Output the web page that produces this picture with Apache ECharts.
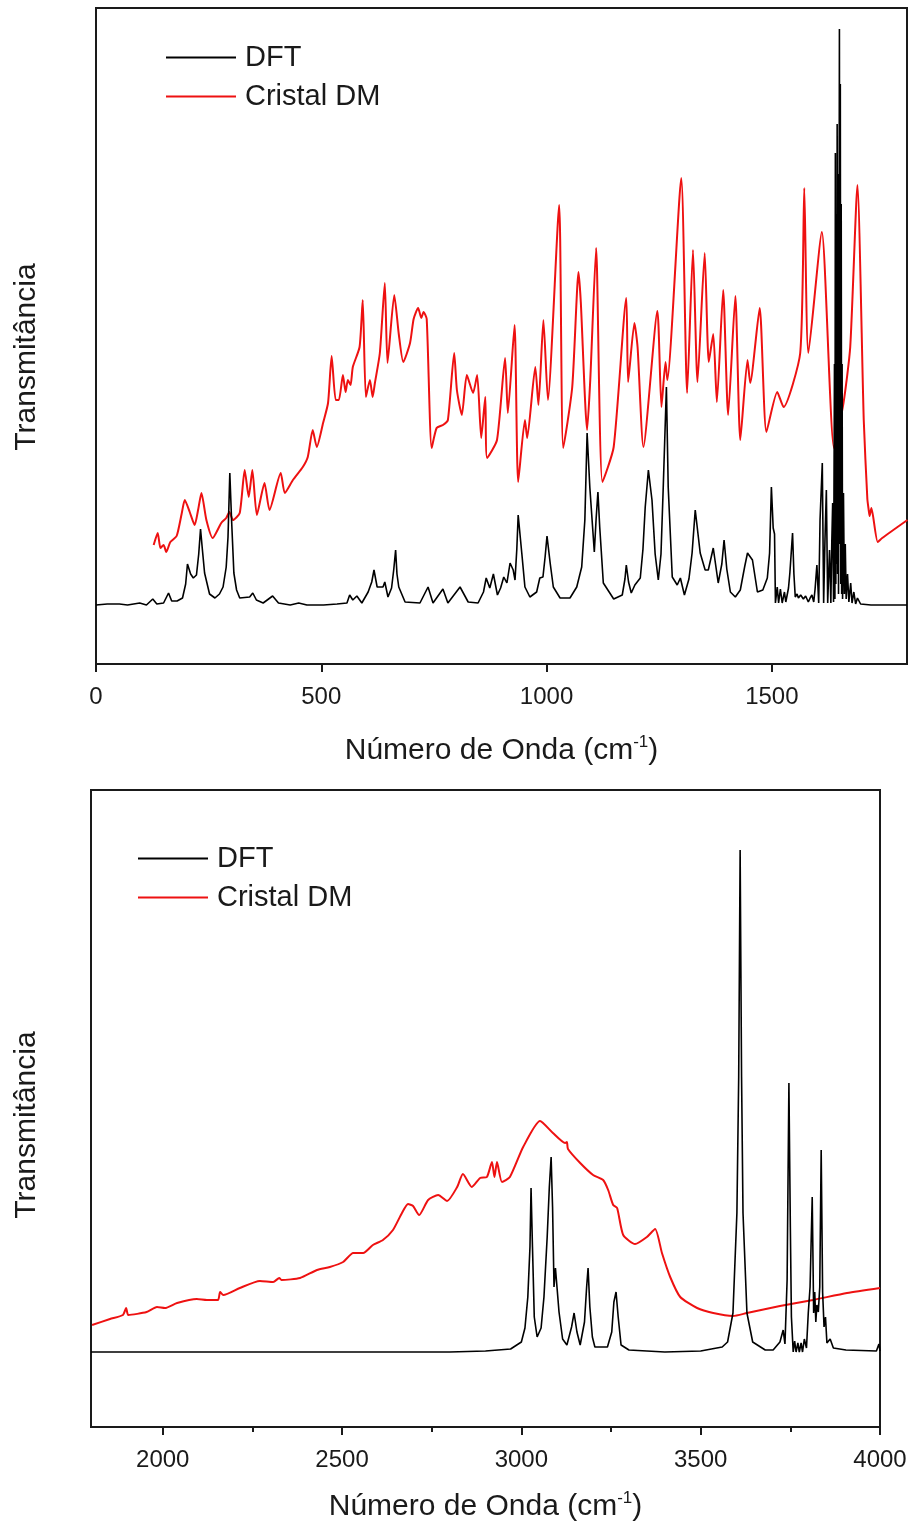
<!DOCTYPE html>
<html>
<head>
<meta charset="utf-8">
<script src="https://cdn.jsdelivr.net/npm/echarts@6/dist/echarts.min.js"></script>
<style>
html,body{margin:0;padding:0;background:#fff;}
#chart{width:912px;height:1531px;}
</style>
</head>
<body>
<div id="chart"></div>
<script>
// ---------- DATA (wavenumber cm-1, transmittance in arbitrary units) ----------
const lowTicks = [0, 500, 1000, 1500];
const highTicks = [2000, 2500, 3000, 3500, 4000];
const highMinorTicks = [2250, 2750, 3250, 3750];
const seriesNames = ['DFT', 'Cristal DM'];

const dftLow = [
[0,5.9],[25,6.0],[52,6.0],[70,5.9],[97,6.1],[112,5.9],[126,6.5],[135,6.0],[150,6.1],[161,7.1],[168,6.3],[180,6.3],[192,6.6],[199,8.0],[203,10.0],[206,10.2],[210,9.0],[216,8.6],[223,8.9],[228,11.0],[232,13.5],[236,11.5],[241,9.1],[252,7.0],[264,6.6],[274,7.0],[282,7.7],[289,9.7],[293,12.7],[297,19.1],[301,14.3],[306,9.1],[312,7.4],[319,6.6],[341,6.7],[348,7.1],[356,6.4],[371,6.1],[392,6.8],[405,6.1],[431,5.9],[450,6.1],[468,5.9],[505,5.9],[535,6.0],[557,6.1],[563,6.9],[570,6.4],[579,6.8],[590,6.1],[604,7.2],[612,8.2],[617,9.4],[624,7.7],[637,7.7],[641,8.2],[648,6.7],[656,7.6],[661,9.5],[665,11.4],[668,9.0],[672,7.7],[686,6.2],[719,6.1],[737,7.7],[748,6.1],[770,7.5],[781,6.1],[808,7.7],[826,6.2],[848,6.1],[860,7.2],[866,8.6],[874,7.6],[882,9.0],[891,6.9],[898,7.6],[905,8.7],[912,8.1],[919,10.1],[926,9.4],[930,8.4],[934,11.5],[937,14.9],[945,11.1],[952,7.7],[963,6.7],[978,7.2],[985,8.6],[992,8.7],[997,10.8],[1001,12.8],[1008,10.1],[1015,7.7],[1030,6.6],[1052,6.6],[1067,7.7],[1078,9.7],[1085,14.4],[1090,23.1],[1096,17.7],[1106,11.2],[1110,14.5],[1114,17.2],[1118,13.7],[1126,8.1],[1149,6.5],[1168,6.9],[1174,8.5],[1177,9.9],[1182,8.2],[1188,7.1],[1196,7.9],[1208,8.6],[1214,11.5],[1219,15.7],[1226,19.4],[1234,16.4],[1241,11.0],[1248,8.4],[1254,11.0],[1259,17.7],[1266,27.7],[1270,17.7],[1279,8.7],[1290,7.9],[1297,8.6],[1306,6.9],[1316,8.5],[1323,11.1],[1330,15.4],[1341,11.1],[1352,9.4],[1359,9.4],[1370,11.6],[1381,8.1],[1389,10.0],[1394,12.4],[1400,9.5],[1408,7.2],[1419,6.7],[1430,7.4],[1440,9.8],[1446,11.1],[1457,10.4],[1468,7.2],[1480,7.4],[1490,8.6],[1495,11.1],[1499,17.7],[1503,13.6],[1506,13.0],[1508,6.1],[1512,7.7],[1515,6.1],[1519,7.5],[1523,6.1],[1528,7.2],[1531,6.2],[1534,6.4],[1537,7.6],[1540,9.1],[1546,13.1],[1549,9.0],[1552,6.7],[1556,7.0],[1559,6.6],[1564,6.9],[1570,6.5],[1575,6.8],[1581,6.2],[1585,6.6],[1589,6.9],[1593,6.2],[1596,7.5],[1600,9.9],[1604,6.1],[1607,14.4],[1612,20.1],[1615,6.1],[1618,12.5],[1621,17.4],[1624,6.1],[1628,11.4],[1631,6.1],[1633,12.0],[1635,16.1],[1637,6.2],[1639,30.0],[1640,6.5],[1641,51.1],[1642,8.0],[1643,45.0],[1644,10.0],[1645,54.0],[1646,9.0],[1647,49.0],[1648,7.0],[1650,63.5],[1651,12.0],[1652,58.0],[1653,8.0],[1654,46.0],[1655,7.0],[1656,30.0],[1657,6.5],[1659,17.1],[1661,7.0],[1663,12.0],[1665,6.5],[1668,9.0],[1671,6.2],[1675,8.1],[1678,6.1],[1682,7.2],[1686,6.0],[1690,6.6],[1697,6.0],[1720,5.9],[1800,5.9]
];

const crystalLow = [
[128,11.9],[137,13.1],[143,11.6],[150,11.9],[156,11.2],[165,12.2],[179,12.8],[190,15.0],[197,16.4],[208,15.2],[219,13.9],[227,15.5],[234,17.1],[245,14.4],[259,12.6],[278,14.1],[289,14.6],[296,15.2],[304,14.4],[319,15.1],[330,19.4],[339,16.7],[347,19.4],[357,14.9],[374,18.1],[385,15.4],[410,19.1],[419,17.1],[437,18.4],[459,19.7],[470,20.7],[481,23.4],[490,21.7],[504,24.1],[515,26.1],[523,30.8],[532,26.4],[539,26.4],[548,28.9],[554,27.2],[559,28.4],[565,27.9],[570,29.7],[585,31.7],[592,36.4],[599,26.7],[608,28.4],[614,26.7],[619,28.1],[630,31.1],[641,38.1],[647,30.1],[662,36.9],[672,33.0],[682,30.2],[697,32.1],[705,34.5],[715,35.6],[722,34.6],[727,35.2],[734,34.5],[745,21.6],[756,23.6],[770,23.9],[781,24.4],[795,31.1],[801,27.4],[812,24.9],[823,28.9],[837,27.1],[846,28.9],[855,22.6],[864,26.7],[868,20.6],[890,22.4],[908,30.6],[914,25.1],[929,33.9],[937,18.2],[952,24.4],[957,22.6],[975,29.7],[982,25.9],[993,34.4],[1003,26.4],[1028,45.9],[1037,21.6],[1057,27.7],[1071,39.2],[1076,36.2],[1090,23.4],[1097,28.4],[1110,41.6],[1124,18.2],[1149,21.7],[1177,36.6],[1181,28.2],[1195,34.1],[1202,31.7],[1215,21.7],[1246,35.3],[1255,25.7],[1264,30.2],[1268,28.4],[1299,48.6],[1312,27.1],[1325,41.4],[1335,28.2],[1351,41.1],[1360,30.2],[1370,33.0],[1378,26.2],[1392,37.4],[1403,24.9],[1419,36.8],[1430,22.4],[1446,30.4],[1452,28.1],[1473,35.6],[1488,23.2],[1512,27.2],[1526,25.7],[1563,31.1],[1572,47.6],[1581,31.1],[1611,43.2],[1638,21.6],[1659,26.1],[1674,31.7],[1690,47.9],[1704,24.4],[1712,16.5],[1715,15.4],[1717,14.8],[1721,15.6],[1735,12.2],[1745,12.6],[1801,14.4]
];

const dftHigh = [
[1800,7.5],[2500,7.5],[2800,7.5],[2900,7.6],[2970,7.8],[3000,8.5],[3010,9.9],[3018,13.0],[3024,18.0],[3027,23.9],[3031,18.0],[3036,11.0],[3044,9.0],[3055,9.9],[3063,13.0],[3072,19.0],[3078,24.0],[3083,27.0],[3087,22.0],[3091,14.0],[3095,15.9],[3099,15.9],[3105,11.5],[3115,8.8],[3127,8.2],[3140,10.0],[3147,11.4],[3155,9.5],[3164,8.2],[3176,10.5],[3182,14.0],[3186,15.9],[3191,12.0],[3198,9.0],[3205,8.0],[3240,8.0],[3252,9.5],[3258,12.5],[3264,13.5],[3270,11.0],[3278,8.2],[3300,7.7],[3400,7.5],[3500,7.6],[3560,8.0],[3575,8.5],[3590,11.4],[3601,21.4],[3606,35.0],[3610,57.7],[3614,35.0],[3618,21.4],[3629,11.4],[3645,8.5],[3680,7.7],[3702,7.7],[3721,8.5],[3730,9.7],[3735,8.3],[3741,14.7],[3746,34.4],[3750,20.0],[3753,11.0],[3758,7.5],[3762,8.6],[3766,7.5],[3771,8.4],[3775,7.5],[3780,8.4],[3784,7.5],[3789,8.8],[3795,7.9],[3800,11.4],[3805,14.0],[3811,23.0],[3815,11.4],[3818,13.5],[3821,10.5],[3824,12.2],[3828,11.5],[3832,14.0],[3836,27.7],[3840,13.5],[3844,10.0],[3848,11.0],[3852,8.4],[3861,8.8],[3870,7.9],[3905,7.7],[3990,7.6],[3997,8.3],[4000,7.6]
];

const crystalHigh = [
[1803,10.2],[1853,10.8],[1889,11.2],[1898,11.9],[1904,11.2],[1955,11.5],[1984,12.0],[2006,11.9],[2040,12.4],[2095,12.8],[2123,12.7],[2154,12.7],[2160,13.5],[2169,13.2],[2215,13.9],[2271,14.6],[2308,14.5],[2325,14.9],[2331,14.7],[2383,14.9],[2430,15.7],[2466,16.0],[2503,16.5],[2531,17.4],[2559,17.4],[2586,18.2],[2614,18.7],[2642,19.7],[2667,21.4],[2684,22.3],[2698,22.1],[2715,21.2],[2740,22.7],[2768,23.2],[2793,22.6],[2821,24.0],[2837,25.3],[2862,24.0],[2885,24.9],[2904,25.0],[2918,26.5],[2925,25.0],[2932,26.5],[2946,24.5],[2968,25.0],[3005,28.0],[3052,30.6],[3088,29.4],[3122,28.4],[3127,28.5],[3130,27.8],[3164,26.4],[3200,25.2],[3228,24.7],[3242,23.7],[3256,22.2],[3267,21.9],[3284,19.2],[3317,18.3],[3350,19.0],[3373,19.8],[3392,17.4],[3415,15.0],[3443,13.0],[3490,11.9],[3535,11.4],[3590,11.1],[3629,11.4],[3721,12.1],[3813,12.7],[3908,13.4],[4000,13.9]
];

// ---------- CHART ----------
const FONT = '"Liberation Sans", Arial, Helvetica, sans-serif';
const INK = '#1a1a1a';
const RED = '#ee1111';

function xAxisCfg(grid, min, max, ticks, gap) {
  return {
    gridIndex: grid, type: 'value', min: min, max: max, position: 'bottom',
    axisLine: { show: true, lineStyle: { color: INK, width: 2 } },
    axisTick: { show: true, customValues: ticks, length: 8, inside: false, lineStyle: { color: INK, width: 2 } },
    axisLabel: { show: true, customValues: ticks, fontSize: 24, color: INK, margin: 21, fontFamily: FONT,
                 formatter: function (v) { return String(v); } },
    splitLine: { show: false },
    name: 'Número de Onda (cm{sup|-1})',
    nameLocation: 'middle', nameGap: gap,
    nameTextStyle: {
      fontSize: 30, color: INK, fontFamily: FONT, lineHeight: 34,
      rich: { sup: { fontSize: 17, fontFamily: FONT, color: INK, verticalAlign: 'top', lineHeight: 18 } }
    }
  };
}
function yAxisCfg(grid, max) {
  return {
    gridIndex: grid, type: 'value', min: 0, max: max,
    axisLine: { show: true, lineStyle: { color: INK, width: 2 } },
    axisTick: { show: false }, axisLabel: { show: false }, splitLine: { show: false }
  };
}
function legendCfg(left, top) {
  return {
    left: left, top: top, orient: 'vertical', padding: 0, itemGap: 8,
    itemWidth: 70, itemHeight: 2, icon: 'rect',
    data: seriesNames,
    textStyle: { fontSize: 29, color: INK, fontFamily: FONT, lineHeight: 31, padding: [0, 0, 0, 4] }
  };
}

const minorAxis = {
  gridIndex: 1, type: 'value', min: 1800, max: 4000, position: 'bottom',
  axisLine: { show: false },
  axisTick: { show: true, customValues: highMinorTicks, length: 5, inside: false, lineStyle: { color: INK, width: 2 } },
  axisLabel: { show: false }, splitLine: { show: false }
};

const option = {
  animation: false,
  backgroundColor: '#fff',
  grid: [
    { left: 96, top: 8, width: 811, height: 656, show: true, borderColor: INK, borderWidth: 2 },
    { left: 91, top: 790, width: 789, height: 637, show: true, borderColor: INK, borderWidth: 2 }
  ],
  legend: [legendCfg(166, 42), legendCfg(138, 843)],
  xAxis: [
    xAxisCfg(0, 0, 1800, lowTicks, 70),
    xAxisCfg(1, 1800, 4000, highTicks, 63),
    minorAxis
  ],
  yAxis: [yAxisCfg(0, 65.6), yAxisCfg(1, 63.7)],
  graphic: [
    { type: 'text', x: 27, y: 357, rotation: Math.PI / 2,
      style: { text: 'Transmitância', fontSize: 30, fontFamily: FONT, fill: INK, align: 'center', verticalAlign: 'middle' } },
    { type: 'text', x: 27, y: 1125, rotation: Math.PI / 2,
      style: { text: 'Transmitância', fontSize: 30, fontFamily: FONT, fill: INK, align: 'center', verticalAlign: 'middle' } }
  ],
  series: [
    { name: seriesNames[0], type: 'line', xAxisIndex: 0, yAxisIndex: 0, data: dftLow, showSymbol: false, symbol: 'none',
      lineStyle: { color: '#000', width: 1.6 }, itemStyle: { color: '#000' }, z: 3 },
    { name: seriesNames[1], type: 'line', xAxisIndex: 0, yAxisIndex: 0, data: crystalLow, showSymbol: false, symbol: 'none',
      smooth: 0.2, lineStyle: { color: RED, width: 2 }, itemStyle: { color: RED }, z: 2 },
    { name: seriesNames[0], type: 'line', xAxisIndex: 1, yAxisIndex: 1, data: dftHigh, showSymbol: false, symbol: 'none',
      lineStyle: { color: '#000', width: 1.6 }, itemStyle: { color: '#000' }, z: 3 },
    { name: seriesNames[1], type: 'line', xAxisIndex: 1, yAxisIndex: 1, data: crystalHigh, showSymbol: false, symbol: 'none',
      smooth: 0.2, lineStyle: { color: RED, width: 2 }, itemStyle: { color: RED }, z: 2 }
  ]
};

const chart = echarts.init(document.getElementById('chart'), null, { renderer: 'canvas' });
chart.setOption(option);
</script>
</body>
</html>
